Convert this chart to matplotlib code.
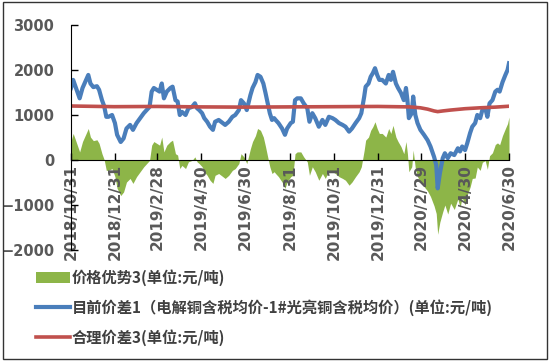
import matplotlib.pyplot as plt
from matplotlib.patches import Rectangle
import pandas as pd

start = pd.Timestamp('2018-10-31')

# day offsets from 2018/10/31 where values were read
days = [0, 3, 7, 12, 16, 21, 24, 27, 31, 36, 39, 43, 46, 49, 52, 57, 61, 64, 69, 73,
        77, 82, 86, 91, 96, 101, 105, 109, 112, 115, 119, 123, 126, 129, 133, 138, 141, 145, 148, 151,
        154, 159, 163, 168, 172, 175, 178, 182, 185, 189, 193, 197, 200, 205, 210, 214, 219, 224, 228, 233,
        236, 240, 244, 249, 252, 256, 259, 263, 267, 270, 273, 276, 279, 282, 284, 288, 293, 297, 300, 305,
        308, 311, 314, 319, 323, 328, 331, 335, 339, 344, 349, 353, 358, 363, 367, 372, 377, 381, 386, 390,
        395, 400, 403, 407, 409, 413, 416, 419, 422, 425, 428, 432, 437, 441, 444, 447, 451, 454, 458, 462,
        465, 467, 469, 473, 475, 478, 481, 485, 490, 495, 499, 504, 507, 509, 512, 516, 519, 523, 527, 532,
        537, 540, 543, 547, 550, 554, 557, 561, 564, 568, 571, 575, 578, 581, 585, 589, 592, 595, 599, 603,
        606, 608]

# 目前价差1
spread_now = [1600, 1780, 1600, 1370, 1600, 1780, 1890, 1700, 1620, 1640, 1560, 1330, 1200, 960, 960, 1000, 820, 560, 400, 480,
              700, 780, 670, 820, 930, 1040, 1110, 1180, 1520, 1600, 1560, 1520, 1700, 1370, 1520, 1600, 1630, 1330, 1300, 1000,
              1070, 1000, 1150, 1180, 1260, 1150, 1110, 1040, 930, 850, 740, 670, 850, 890, 830, 780, 850, 960, 1000, 1110,
              1330, 1260, 1110, 1440, 1600, 1730, 1890, 1850, 1700, 1490, 1260, 1040, 890, 930, 890, 820, 700, 560, 700, 820,
              850, 1330, 1370, 1370, 1260, 1150, 850, 1040, 930, 740, 890, 780, 960, 930, 890, 820, 780, 740, 630, 700,
              820, 930, 1040, 1410, 1630, 1700, 1850, 1930, 2040, 1890, 1780, 1780, 1700, 1890, 1780, 1960, 1700, 1600, 1490, 1330,
              1600, 1330, 930, 1040, 1410, 1000, 820, 670, 560, 440, 300, 70, -110, -630, -300, 40, 150, 40, 150, 110,
              260, 190, 300, 220, 370, 600, 740, 820, 1000, 930, 1110, 1150, 960, 1260, 1330, 1520, 1560, 1520, 1730, 1890,
              2000, 2150]

# 价格优势3
advantage = [410, 590, 410, 180, 410, 590, 700, 510, 430, 450, 370, 140, 10, -230, -230, -190, -370, -630, -790, -710,
             -490, -410, -520, -370, -260, -150, -80, -10, 330, 410, 370, 330, 510, 180, 330, 410, 440, 140, 110, -190,
             -120, -190, -40, -10, 70, -40, -80, -150, -260, -340, -450, -520, -340, -300, -360, -410, -340, -230, -190, -80,
             140, 70, -80, 250, 410, 540, 700, 660, 510, 300, 70, -150, -300, -260, -300, -370, -490, -630, -490, -370,
             -340, 140, 180, 180, 70, -40, -340, -150, -260, -450, -300, -410, -230, -260, -300, -370, -410, -450, -560, -490,
             -370, -260, -150, 220, 440, 510, 660, 740, 850, 700, 590, 590, 510, 700, 590, 770, 510, 410, 300, 140,
             410, 140, -260, -150, 220, -190, -370, -490, -590, -690, -810, -1020, -1190, -1650, -1380, -1150, -1000, -1200, -960, -1100,
             -865, -1050, -835, -1000, -775, -600, -410, -400, -155, -230, -50, -15, -205, 95, 160, 345, 380, 340, 545, 700,
             810, 955]

# 合理价差3
fair_days = [0, 60, 120, 180, 240, 300, 365, 426, 470, 485, 495, 504, 509, 516, 527, 547, 568, 589, 608]
fair_spread = [1200, 1185, 1190, 1180, 1175, 1180, 1185, 1190, 1180, 1160, 1130, 1090, 1075, 1090, 1110, 1140, 1160, 1175, 1195]

tick_dates = ['2018-10-31', '2018-12-31', '2019-02-28', '2019-04-30', '2019-06-30', '2019-08-31',
              '2019-10-31', '2019-12-31', '2020-02-29', '2020-04-30', '2020-06-30']
tick_labels = ['2018/10/31', '2018/12/31', '2019/2/28', '2019/4/30', '2019/6/30', '2019/8/31',
               '2019/10/31', '2019/12/31', '2020/2/29', '2020/4/30', '2020/6/30']

dates = start + pd.to_timedelta(days, unit='D')
fair_dates = start + pd.to_timedelta(fair_days, unit='D')

cjk = ['Noto Sans CJK SC', 'DejaVu Sans']
grey = '#595959'

fig = plt.figure(figsize=(5.5, 3.64), dpi=100)
ax = fig.add_axes([71 / 550, 1 - 250 / 364, (509 - 71) / 550, 225 / 364])

ax.fill_between(dates, 0, advantage, color='#8DB548', lw=0, label='价格优势3(单位:元/吨)')
ax.plot(dates, spread_now, color='#4A7EBB', lw=3,
        label='目前价差1（电解铜含税均价-1#光亮铜含税均价）(单位:元/吨)')
ax.plot(fair_dates, fair_spread, color='#C0504D', lw=2.6, label='合理价差3(单位:元/吨)')

ax.set_xlim(pd.Timestamp('2018-10-31'), pd.Timestamp('2020-06-30'))
ax.set_ylim(-2000, 3000)
ax.set_yticks([-2000, -1000, 0, 1000, 2000, 3000])
ax.set_xticks(pd.to_datetime(tick_dates))
ax.set_xticklabels(tick_labels)

ax.spines['top'].set_visible(False)
ax.spines['right'].set_visible(False)
ax.spines['bottom'].set_position(('data', 0))
ax.tick_params(axis='x', direction='in', length=5, width=1, pad=3, labelrotation=90)
ax.tick_params(axis='y', direction='in', length=5, width=1, pad=12)

for lab in ax.get_xticklabels():
    lab.set_fontweight('bold')
    lab.set_color(grey)
    lab.set_fontsize(11)
for lab in ax.get_yticklabels():
    lab.set_fontweight('bold')
    lab.set_color(grey)
    lab.set_fontsize(10.5)

leg = fig.legend(loc='upper left', bbox_to_anchor=(30 / 550, 1 - 263 / 364), frameon=False,
                 prop={'family': cjk, 'weight': 'bold', 'size': 11},
                 handlelength=2.2, handletextpad=0.15, labelspacing=0.85, borderaxespad=0)
for t in leg.get_texts():
    t.set_color('#404040')

fig.patches.append(Rectangle((3 / 550, 1 - 359 / 364), 544 / 550, 357 / 364,
                             transform=fig.transFigure, fill=False, ec='#333333', lw=1))

fig.savefig('out.png', dpi=100)
